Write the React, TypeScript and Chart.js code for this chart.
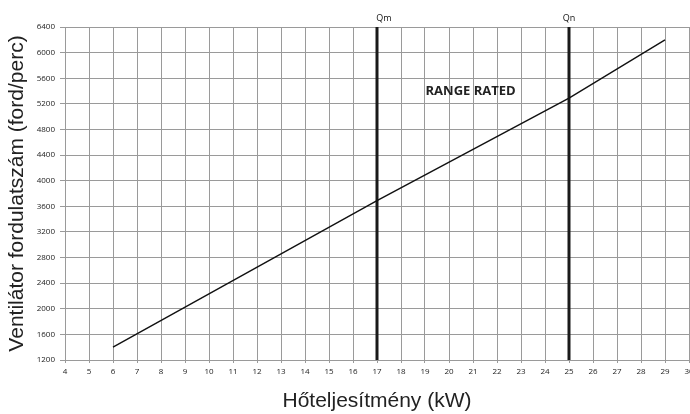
import React, { useEffect, useRef } from "react";
import { Chart, registerables } from "chart.js";

Chart.register(...registerables);

// Data
const kwValues = [6, 17, 25, 29];
const rpmValues = [1400, 3690, 5290, 6200];
const markerKw = [17, 25];
const markerLabels = ["Qm", "Qn"];
const rangeText = "RANGE RATED";
const xTitle = "Hőteljesítmény (kW)";
const yTitle = "Ventilátor fordulatszám (ford/perc)";
const xMin = 4, xMax = 30, xStep = 1;
const yMin = 1200, yMax = 6400, yStep = 400;

// annotation placement (style/positions)
const rangePos = { x: 20.9, y: 5395 };
const markerLabelDx = [7, 0];

const GRID = "#9a9a9a";
const TICK = "#222";

export default function App() {
  const ref = useRef<HTMLCanvasElement | null>(null);
  useEffect(() => {
    if (!ref.current) return;
    const labelPlugin = {
      id: "labels",
      afterDatasetsDraw(chart: any) {
        const { ctx, scales } = chart;
        const xs = scales.x, ys = scales.y;
        ctx.save();
        ctx.fillStyle = "#111";
        ctx.font = "9px 'Open Sans'";
        ctx.textAlign = "center";
        ctx.textBaseline = "middle";
        markerKw.forEach((k, i) => {
          ctx.fillText(markerLabels[i], xs.getPixelForValue(k) + markerLabelDx[i], 18);
        });
        ctx.font = "bold 13px 'Open Sans'";
        ctx.fillStyle = "#222";
        ctx.fillText(rangeText, xs.getPixelForValue(rangePos.x), ys.getPixelForValue(rangePos.y));
        ctx.restore();
      },
    };
    const chart = new Chart(ref.current, {
      type: "line",
      data: {
        datasets: [
          {
            data: kwValues.map((x, i) => ({ x, y: rpmValues[i] })),
            borderColor: "#111",
            borderWidth: 1.4,
            pointRadius: 0,
            tension: 0,
          },
          ...markerKw.map((k) => ({
            data: [
              { x: k, y: yMin },
              { x: k, y: yMax },
            ],
            borderColor: "#1a1a1a",
            borderWidth: 3,
            pointRadius: 0,
          })),
        ],
      },
      options: {
        animation: false,
        responsive: false,
        devicePixelRatio: 1,
        layout: { padding: { top: 27, right: 11, left: 0, bottom: 0 } },
        plugins: { legend: { display: false }, tooltip: { enabled: false } },
        scales: {
          x: {
            type: "linear",
            min: xMin,
            max: xMax,
            offset: false,
            afterFit: (s: any) => {
              s.height = 54;
            },
            ticks: {
              stepSize: xStep,
              autoSkip: false,
              maxRotation: 0,
              padding: 4,
              color: TICK,
              font: { family: "'Open Sans'", size: 8 },
              callback: (v: any) => String(v),
            },
            grid: { color: GRID, lineWidth: 1, tickLength: 3 },
            border: { color: GRID },
            title: {
              display: true,
              text: xTitle,
              color: "#222",
              font: { family: "'Liberation Sans', Arial", size: 21 },
              padding: { top: 0, bottom: 0 },
            },
          },
          y: {
            type: "linear",
            min: yMin,
            max: yMax,
            afterFit: (s: any) => {
              s.width = 65;
            },
            ticks: {
              stepSize: yStep,
              autoSkip: false,
              padding: 5,
              color: TICK,
              font: { family: "'Open Sans'", size: 8 },
              callback: (v: any) => String(v),
            },
            grid: { color: GRID, lineWidth: 1, tickLength: 5 },
            border: { color: GRID },
            title: {
              display: true,
              text: yTitle,
              color: "#222",
              font: { family: "'Liberation Sans', Arial", size: 21 },
              padding: { top: 5, bottom: 0 },
            },
          },
        },
      },
      plugins: [labelPlugin],
    } as any);
    return () => chart.destroy();
  }, []);
  return (
    <div
      style={{
        position: "fixed",
        left: 0,
        top: 0,
        width: 690,
        height: 414,
        overflow: "hidden",
        background: "#fff",
      }}
    >
      <canvas ref={ref} width={700} height={414} style={{ width: 700, height: 414, display: "block" }} />
    </div>
  );
}
